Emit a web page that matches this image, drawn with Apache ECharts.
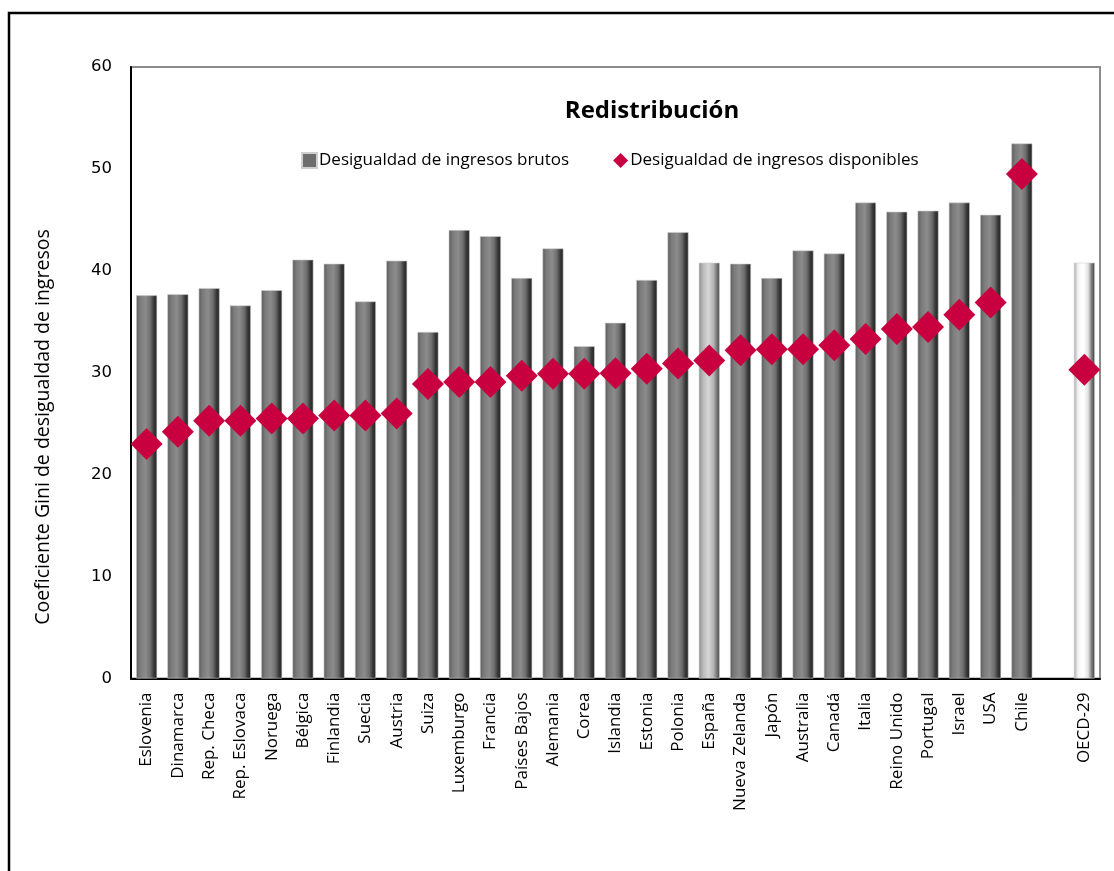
<!DOCTYPE html>
<html>
<head>
<meta charset="utf-8">
<style>
  html, body { margin: 0; padding: 0; background: #ffffff; }
  #chart { width: 1114px; height: 871px; }
</style>
<script src="https://cdn.jsdelivr.net/npm/echarts@6/dist/echarts.min.js"></script>
</head>
<body>
<div id="chart"></div>
<script>
// Countries ordered by disposable-income inequality; '' leaves a gap before the OECD average
const categories = [
  'Eslovenia', 'Dinamarca', 'Rep. Checa', 'Rep. Eslovaca', 'Noruega', 'Bélgica',
  'Finlandia', 'Suecia', 'Austria', 'Suiza', 'Luxemburgo', 'Francia', 'Países Bajos',
  'Alemania', 'Corea', 'Islandia', 'Estonia', 'Polonia', 'España', 'Nueva Zelanda',
  'Japón', 'Australia', 'Canadá', 'Italia', 'Reino Unido', 'Portugal', 'Israel',
  'USA', 'Chile', '', 'OECD-29'
];

// Gini coefficient of market (gross) income
const giniBrutos = [
  37.6, 37.7, 38.3, 36.6, 38.1, 41.1,
  40.7, 37.0, 41.0, 34.0, 44.0, 43.4, 39.3,
  42.2, 32.6, 34.9, 39.1, 43.8, 40.8, 40.7,
  39.3, 42.0, 41.7, 46.7, 45.8, 45.9, 46.7,
  45.5, 52.5, null, 40.8
];

// Gini coefficient of disposable income
const giniDisponibles = [
  23.0, 24.2, 25.3, 25.3, 25.5, 25.5,
  25.8, 25.8, 26.0, 28.9, 29.1, 29.1, 29.7,
  29.9, 29.9, 29.95, 30.4, 30.9, 31.2, 32.2,
  32.3, 32.3, 32.7, 33.3, 34.3, 34.5, 35.7,
  36.9, 49.5, null, 30.3
];

const yTicks = [0, 10, 20, 30, 40, 50, 60];

const nombreBrutos = 'Desigualdad de ingresos brutos';
const nombreDisponibles = 'Desigualdad de ingresos disponibles';
const titulo = 'Redistribución';
const tituloEje = 'Coeficiente Gini de desigualdad de ingresos';

// Cylinder-like shading for the columns
function cylinder(stops) {
  return new echarts.graphic.LinearGradient(0, 0, 1, 0,
    stops.map(s => ({ offset: s[0], color: s[1] })));
}
const darkBar = cylinder([[0, '#5a5a5a'], [0.18, '#7a7a7a'], [0.45, '#8c8c8c'], [0.68, '#6e6e6e'], [0.85, '#383838'], [1, '#232323']]);
const spainBar = cylinder([[0, '#8c8c8c'], [0.2, '#b8b8b8'], [0.45, '#d6d6d6'], [0.7, '#b4b4b4'], [0.88, '#707070'], [1, '#4a4a4a']]);
const oecdBar = cylinder([[0, '#a8a8a8'], [0.2, '#f4f4f4'], [0.45, '#ffffff'], [0.68, '#e2e2e2'], [0.85, '#7a7a7a'], [1, '#3e3e3e']]);

const barData = giniBrutos.map((v, i) => {
  if (v === null) return null;
  let color = darkBar;
  if (categories[i] === 'España') color = spainBar;
  if (categories[i] === 'OECD-29') color = oecdBar;
  return { value: v, itemStyle: { color: color } };
});

const chart = echarts.init(document.getElementById('chart'), null, { renderer: 'canvas' });

chart.setOption({
  backgroundColor: '#ffffff',
  animation: false,
  title: {
    text: titulo,
    left: 647,
    top: 94,
    textAlign: 'center',
    textStyle: { fontFamily: 'Open Sans', fontSize: 24, fontWeight: 'bold', color: '#000' }
  },
  legend: {
    left: 296,
    top: 147,
    itemGap: 44,
    itemWidth: 15,
    itemHeight: 15,
    textStyle: { fontFamily: 'Open Sans', fontSize: 17, color: '#000', padding: [0, 0, 0, -3] },
    data: [
      { name: nombreBrutos, icon: 'rect', itemStyle: { color: '#6e6e6e' } },
      { name: nombreDisponibles, icon: 'diamond' }
    ]
  },
  grid: {
    left: 131,
    right: 14,
    top: 67,
    bottom: 192.5,
    show: true,
    borderColor: '#8c8c8c',
    borderWidth: 2,
    backgroundColor: 'transparent'
  },
  xAxis: {
    type: 'category',
    data: categories,
    boundaryGap: true,
    axisLine: { show: true, lineStyle: { color: '#000', width: 2 } },
    axisTick: { show: false },
    axisLabel: {
      interval: 0,
      rotate: 90,
      margin: 14,
      fontFamily: 'Open Sans',
      fontSize: 17,
      color: '#000'
    },
    splitLine: { show: false }
  },
  yAxis: {
    type: 'value',
    min: yTicks[0],
    max: yTicks[yTicks.length - 1],
    interval: 10,
    axisLine: { show: true, lineStyle: { color: '#000', width: 2 } },
    axisTick: { show: false },
    splitLine: { show: false },
    axisLabel: {
      margin: 19,
      fontFamily: 'DejaVu Sans',
      fontSize: 16.5,
      color: '#000'
    }
  },
  graphic: [
    {
      type: 'rect',
      silent: true,
      z: -1,
      shape: { x: 9, y: 13, width: 1300, height: 1200 },
      style: { fill: 'transparent', stroke: '#000', lineWidth: 2.5 }
    },
    {
      type: 'text',
      x: 43,
      y: 427,
      rotation: Math.PI / 2,
      style: {
        text: tituloEje,
        fontFamily: 'Open Sans',
        fontSize: 19.5,
        fill: '#000',
        align: 'center',
        verticalAlign: 'middle'
      }
    }
  ],
  series: [
    {
      name: nombreBrutos,
      type: 'bar',
      data: barData,
      barWidth: 21,
      barGap: '-100%',
      itemStyle: { color: darkBar, borderColor: '#cfcfcf', borderWidth: 0.6 },
      z: 2
    },
    {
      name: nombreDisponibles,
      type: 'scatter',
      data: giniDisponibles,
      symbol: 'diamond',
      symbolSize: [32, 32],
      itemStyle: { color: '#c8003f', opacity: 1 },
      z: 3
    }
  ]
});
</script>
</body>
</html>
